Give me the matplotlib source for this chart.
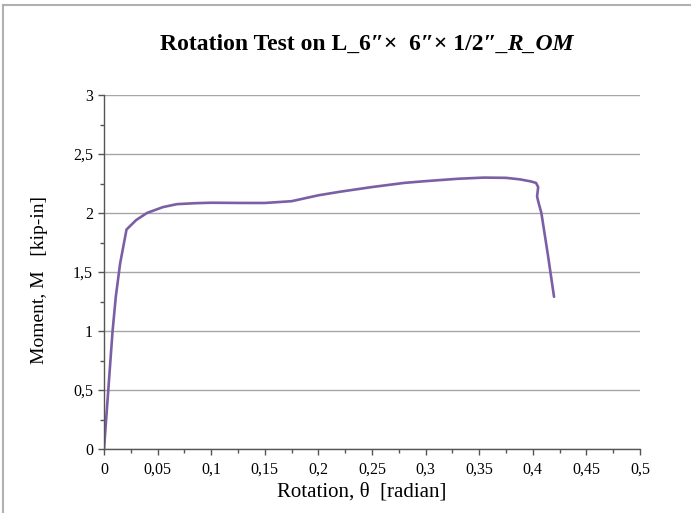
import matplotlib
matplotlib.use("Agg")
import matplotlib.pyplot as plt
from matplotlib.lines import Line2D
from matplotlib.ticker import MultipleLocator, FuncFormatter

# Moment-rotation response of the angle connection
theta = [0, 0.002, 0.004, 0.008, 0.011, 0.015, 0.021, 0.030, 0.040, 0.055,
         0.068, 0.085, 0.10, 0.13, 0.15, 0.175, 0.20, 0.22, 0.25, 0.28,
         0.30, 0.33, 0.354, 0.375, 0.388, 0.398, 0.403, 0.405, 0.404, 0.405,
         0.408, 0.414, 0.4198]
moment = [0, 0.25, 0.5, 1.0, 1.29, 1.57, 1.86, 1.94, 2.0, 2.05,
          2.075, 2.083, 2.087, 2.085, 2.085, 2.10, 2.15, 2.18, 2.22, 2.255,
          2.27, 2.29, 2.30, 2.298, 2.285, 2.268, 2.255, 2.22, 2.14, 2.10,
          2.0, 1.65, 1.29]

title_main = "Rotation Test on L_6\u2033\u00d7  6\u2033\u00d7 1/2\u2033"
title_tail = "_R_OM"
xlabel = "Rotation, \u03b8  [radian]"
ylabel = "Moment, M   [kip-in]"

plt.rcParams["font.family"] = ["Liberation Serif", "DejaVu Serif"]

W, H = 691, 513
fig = plt.figure(figsize=(W / 100, H / 100), dpi=100)
ax = fig.add_axes([104 / W, 1 - 449 / H, (640 - 104) / W, (449 - 95) / H])

ax.plot(theta, moment, color="#7b5fa5", lw=1.9, solid_joinstyle="round",
        solid_capstyle="round")

ax.set_xlim(0, 0.5)
ax.set_ylim(0, 3)
ax.xaxis.set_major_locator(MultipleLocator(0.05))
ax.xaxis.set_minor_locator(MultipleLocator(0.025))
ax.yaxis.set_major_locator(MultipleLocator(0.5))
ax.yaxis.set_minor_locator(MultipleLocator(0.25))

def comma_fmt(v, pos):
    s = f"{v:.2f}".rstrip("0").rstrip(".")
    return s.replace(".", ",")

ax.xaxis.set_major_formatter(FuncFormatter(comma_fmt))
ax.yaxis.set_major_formatter(FuncFormatter(comma_fmt))

ax.grid(axis="y", which="major", color="#a6a6a6", lw=1.0)
ax.set_axisbelow(True)
for s in ("top", "right"):
    ax.spines[s].set_visible(False)
for s in ("left", "bottom"):
    ax.spines[s].set_color("#555555")
    ax.spines[s].set_linewidth(1.0)

ax.tick_params(which="major", direction="out", length=4, width=1,
               color="#555555", labelsize=11.5)
ax.tick_params(axis="x", which="major", pad=5)
ax.tick_params(axis="y", which="major", pad=4)
ax.tick_params(which="minor", direction="out", length=3, width=1,
               color="#555555")

ax.set_xlabel(xlabel, fontsize=15, labelpad=1)
ax.set_ylabel(ylabel, fontsize=14)
ax.yaxis.set_label_coords(40 / W, 1 - 280 / H, transform=fig.transFigure)
ax.xaxis.set_label_coords(362 / W, 1 - 492 / H, transform=fig.transFigure)
ax.xaxis.label.set_va("center")
ax.yaxis.label.set_va("center")

# Title: upright part followed by an italic suffix
t1 = fig.text(160 / W, 1 - 44 / H, title_main, fontsize=17, fontweight="bold",
              ha="left", va="center")
fig.canvas.draw()
bb = t1.get_window_extent()
fig.text(bb.x1 / W, 1 - 44 / H, title_tail, fontsize=17, fontweight="bold",
         fontstyle="italic", ha="left", va="center")

# Outer chart frame
fig.add_artist(Line2D([3 / W, 1], [1 - 5 / H, 1 - 5 / H], color="#b0b0b0",
                      lw=1.5, transform=fig.transFigure))
fig.add_artist(Line2D([3 / W, 3 / W], [0, 1 - 5 / H], color="#b0b0b0",
                      lw=1.5, transform=fig.transFigure))

fig.savefig("out.png", dpi=100)
